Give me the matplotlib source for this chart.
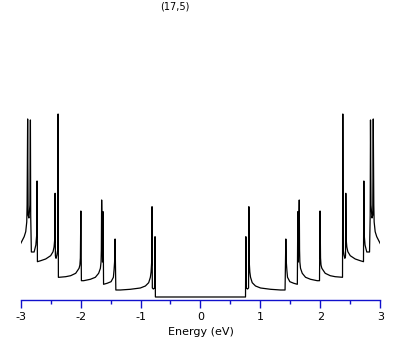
import numpy as np
import matplotlib
matplotlib.use('Agg')
import matplotlib.pyplot as plt
from matplotlib.ticker import MultipleLocator

# density of states of the (17,5) tube, traced from E >= 0 (the curve is symmetric about E = 0)
energy_pos = [0.0, 0.752, 0.758, 0.766, 0.786, 0.803, 0.808, 0.814, 0.824, 0.836, 0.864,
              0.919, 1.003, 1.170, 1.337, 1.412, 1.425, 1.433, 1.442, 1.453, 1.492,
              1.558, 1.617, 1.625, 1.634, 1.649, 1.654, 1.659, 1.670, 1.699, 1.754,
              1.837, 1.949, 1.987, 1.996, 2.004, 2.012, 2.026, 2.082, 2.166, 2.249,
              2.359, 2.371, 2.376, 2.383, 2.396, 2.410, 2.421, 2.426, 2.433, 2.443,
              2.460, 2.500, 2.583, 2.666, 2.721, 2.727, 2.733, 2.747, 2.776, 2.822,
              2.833, 2.838, 2.846, 2.863, 2.876, 2.884, 2.893, 2.899, 2.916, 2.942,
              2.970, 3.0]
dos_pos = [0.0, 0.0, 6.03, 0.9, 0.8, 0.9, 9.03, 3.5, 2.5, 1.97, 1.43,
           1.1, 0.9, 0.77, 0.7, 0.7, 5.8, 3.5, 2.7, 1.97, 1.53,
           1.37, 1.27, 8.53, 3.5, 9.7, 4.7, 3.5, 2.87, 2.37, 1.97,
           1.77, 1.63, 1.63, 8.6, 3.9, 3.2, 2.87, 2.37, 2.13, 2.03,
           1.97, 1.97, 18.3, 4.7, 4.2, 3.87, 4.1, 10.37, 5.7, 5.0,
           4.53, 4.13, 3.8, 3.63, 3.53, 11.6, 6.2, 5.2, 4.5, 4.5,
           8.2, 17.7, 9.2, 7.9, 8.2, 17.8, 9.2, 7.5, 6.53, 6.03,
           5.7, 5.35]

title = "(17,5)"
xlabel = "Energy (eV)"
xticks = [-3, -2, -1, 0, 1, 2, 3]

plt.rcParams['font.family'] = ['DejaVu Sans']
plt.rcParams['axes.unicode_minus'] = False

e = np.array(energy_pos)
d = np.array(dos_pos)
energy = np.concatenate([-e[::-1], e])
dos = np.concatenate([d[::-1], d])

blue = '#1010cc'

fig = plt.figure(figsize=(4.09, 3.45), dpi=100)
ax = fig.add_axes([0.0506, 0.129, 0.879, 0.5812])
ax.plot(energy, dos, color='black', lw=0.9)

ax.set_xlim(-3, 3)
ax.set_ylim(-0.35, 19.7)
for s in ['top', 'left', 'right']:
    ax.spines[s].set_visible(False)
ax.spines['bottom'].set_color(blue)
ax.spines['bottom'].set_linewidth(1.0)
ax.set_yticks([])
ax.set_xticks(xticks)
ax.set_xticklabels([str(t) for t in xticks])
ax.xaxis.set_minor_locator(MultipleLocator(0.5))
ax.tick_params(axis='x', which='major', direction='out', length=5.6, width=1.0,
               color=blue, labelsize=8, pad=2.5)
ax.tick_params(axis='x', which='minor', direction='out', length=3.2, width=1.0, color=blue)
ax.set_xlabel(xlabel, fontsize=8, labelpad=4)

fig.text(174.5 / 409, 1 - 6.5 / 345, title, fontsize=7, ha='center', va='center')

fig.savefig('out.png', dpi=100)
